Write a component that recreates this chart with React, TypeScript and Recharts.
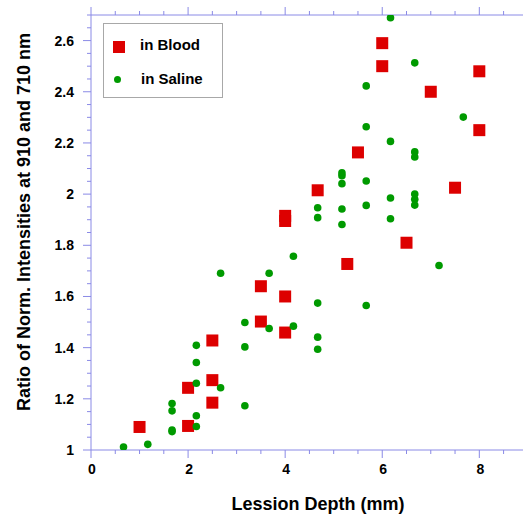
import React from 'react';
import { ScatterChart, Scatter, XAxis, YAxis, Label } from 'recharts';

// Lesion depth (mm) vs ratio
const bloodDepth = [6, 6, 8, 7, 8, 5.5, 7.5, 4.67, 4, 4, 6.5, 5.28, 3.5, 4, 3.5, 4, 2.5, 2, 2.5, 2.5, 1, 2];
const bloodRatio = [2.59, 2.5, 2.48, 2.4, 2.25, 2.163, 2.025, 2.015, 1.915, 1.895, 1.81, 1.727, 1.64, 1.6, 1.502, 1.459, 1.428, 1.243, 1.273, 1.185, 1.09, 1.094];

const salineDepth = [
  6.17, 6.67, 5.67, 7.67, 5.67, 6.17, 6.67, 6.67, 5.17, 5.17, 5.17, 5.67, 6.17, 6.67, 6.67, 6.67,
  4.67, 5.17, 5.67, 4.67, 5.17, 6.17, 4.17, 7.17, 2.67, 3.67, 4.67, 5.67, 3.17, 3.67, 4.17, 4.67,
  4.67, 2.17, 3.17, 2.17, 2.17, 2.67, 1.67, 1.67, 3.17, 2.17, 2.17, 1.67, 1.67, 1.17, 0.67,
];
const salineRatio = [
  2.689, 2.513, 2.423, 2.301, 2.263, 2.206, 2.165, 2.145, 2.083, 2.072, 2.041, 2.051, 1.985, 2.0, 1.98, 1.957,
  1.947, 1.942, 1.956, 1.908, 1.881, 1.904, 1.757, 1.721, 1.691, 1.691, 1.574, 1.565, 1.498, 1.475, 1.484, 1.441,
  1.394, 1.409, 1.403, 1.342, 1.261, 1.243, 1.182, 1.153, 1.173, 1.134, 1.092, 1.078, 1.072, 1.022, 1.012,
];

const xTicks = [0, 0.5, 1, 1.5, 2, 2.5, 3, 3.5, 4, 4.5, 5, 5.5, 6, 6.5, 7, 7.5, 8, 8.5];
const xMajor = [0, 2, 4, 6, 8];
const yTicks = [
  1, 1.05, 1.1, 1.15, 1.2, 1.25, 1.3, 1.35, 1.4, 1.45, 1.5, 1.55, 1.6, 1.65, 1.7, 1.75, 1.8, 1.85,
  1.9, 1.95, 2, 2.05, 2.1, 2.15, 2.2, 2.25, 2.3, 2.35, 2.4, 2.45, 2.5, 2.55, 2.6, 2.65, 2.7,
];
const yMajor = [1, 1.2, 1.4, 1.6, 1.8, 2, 2.2, 2.4, 2.6];

const blood = bloodDepth.map((x, i) => ({ x, y: bloodRatio[i] }));
const saline = salineDepth.map((x, i) => ({ x, y: salineRatio[i] }));

const axisColor = '#8a8ae6';
const red = '#dd0000';
const green = '#009a00';
const font = 'Arial, "Liberation Sans", sans-serif';

const isMajor = (list: number[], v: number) => list.some((m) => Math.abs(m - v) < 1e-6);

// eslint-disable-next-line @typescript-eslint/no-explicit-any
const BottomTick = ({ x, y, payload }: any) => {
  const major = isMajor(xMajor, payload.value);
  return (
    <g>
      <line x1={x} x2={x} y1={y} y2={y + (major ? 8 : 4)} stroke={axisColor} />
      {major && (
        <text x={x + 1} y={y + 24} textAnchor="middle" fontFamily={font} fontWeight="bold" fontSize={14} fill="#000">
          {payload.value}
        </text>
      )}
    </g>
  );
};

// eslint-disable-next-line @typescript-eslint/no-explicit-any
const TopTick = ({ x, y, payload }: any) => {
  const major = isMajor(xMajor, payload.value);
  return <line x1={x} x2={x} y1={y} y2={y - (major ? 8 : 4)} stroke={axisColor} />;
};

// eslint-disable-next-line @typescript-eslint/no-explicit-any
const LeftTick = ({ x, y, payload }: any) => {
  const major = isMajor(yMajor, payload.value);
  return (
    <g>
      <line x1={x} x2={x - (major ? 8 : 4)} y1={y} y2={y} stroke={axisColor} />
      {major && (
        <text x={74} y={y + 5} textAnchor="end" fontFamily={font} fontWeight="bold" fontSize={14} fill="#000">
          {String(Math.round(payload.value * 10) / 10)}
        </text>
      )}
    </g>
  );
};

// eslint-disable-next-line @typescript-eslint/no-explicit-any
const Square = ({ cx, cy }: any) => <rect x={cx - 6} y={cy - 6} width={12} height={12} fill={red} />;
// eslint-disable-next-line @typescript-eslint/no-explicit-any
const Dot = ({ cx, cy }: any) => <circle cx={cx} cy={cy} r={3.8} fill={green} />;

const LegendBox = () => (
  <div
    style={{
      position: 'absolute',
      left: 103,
      top: 23,
      width: 118,
      height: 73,
      border: '1px solid #a8a8a8',
      background: '#fff',
      fontFamily: font,
      fontWeight: 'bold',
      fontSize: 15,
      lineHeight: '18px',
    }}
  >
    <div style={{ position: 'absolute', left: 9, top: 17, width: 12, height: 12, background: red }} />
    <div style={{ position: 'absolute', left: 36, top: 12 }}>in Blood</div>
    <div style={{ position: 'absolute', left: 10, top: 52, width: 7, height: 7, borderRadius: 4, background: green }} />
    <div style={{ position: 'absolute', left: 37, top: 46 }}>in Saline</div>
  </div>
);

export default function App() {
  return (
    <div style={{ position: 'absolute', left: 0, top: 0, width: 523, height: 514, background: '#fff' }}>
      <ScatterChart width={523} height={514} margin={{ top: 14, right: 0, left: 0, bottom: 0 }}>
        <XAxis
          xAxisId="bottom"
          type="number"
          dataKey="x"
          domain={[0, 8.9]}
          ticks={xTicks}
          interval={0}
          allowDataOverflow
          height={64}
          stroke={axisColor}
          tickSize={0}
          tickMargin={0}
          tickLine={false}
          tick={<BottomTick />}
        >
          <Label
            content={() => (
              <text x={318} y={510} textAnchor="middle" fontFamily={font} fontWeight="bold" fontSize={18} fill="#000">
                Lession Depth (mm)
              </text>
            )}
          />
        </XAxis>
        <XAxis
          xAxisId="top"
          orientation="top"
          type="number"
          dataKey="x"
          domain={[0, 8.9]}
          ticks={xTicks}
          interval={0}
          allowDataOverflow
          height={1}
          stroke={axisColor}
          tickSize={0}
          tickMargin={0}
          tickLine={false}
          tick={<TopTick />}
        />
        <YAxis
          type="number"
          dataKey="y"
          domain={[1, 2.7]}
          ticks={yTicks}
          interval={0}
          allowDataOverflow
          width={91}
          stroke={axisColor}
          tickSize={0}
          tickMargin={0}
          tickLine={false}
          tick={<LeftTick />}
        >
          <Label
            content={() => (
              <text
                x={30}
                y={222}
                transform="rotate(-90 30 222)"
                textAnchor="middle"
                fontFamily={font}
                fontWeight="bold"
                fontSize={18}
                fill="#000"
              >
                Ratio of Norm. Intensities at 910 and 710 nm
              </text>
            )}
          />
        </YAxis>
        <Scatter name="in Blood" data={blood} xAxisId="bottom" shape={<Square />} isAnimationActive={false} />
        <Scatter name="in Saline" data={saline} xAxisId="bottom" shape={<Dot />} isAnimationActive={false} />
      </ScatterChart>
      <LegendBox />
    </div>
  );
}
